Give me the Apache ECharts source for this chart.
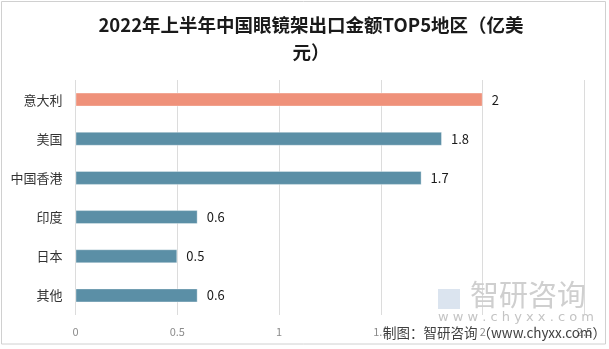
<!DOCTYPE html>
<html>
<head>
<meta charset="utf-8">
<script src="https://cdn.jsdelivr.net/npm/echarts@6/dist/echarts.min.js"></script>
<style>
html,body{margin:0;padding:0;background:#fff;}
#c{width:609px;height:349px;}
</style>
</head>
<body>
<div id="c"></div>
<script>
const titleText = '2022年上半年中国眼镜架出口金额TOP5地区（亿美\n元）';
const categories = ['意大利', '美国', '中国香港', '印度', '日本', '其他'];
const values = [2, 1.8, 1.7, 0.6, 0.5, 0.6];
const xTicks = [0, 0.5, 1, 1.5, 2, 2.5];
const sourceText = '制图：智研咨询（www.chyxx.com）';

const highlightColor = '#EF917A';
const barColor = '#5B8FA6';

const chart = echarts.init(document.getElementById('c'));
chart.setOption({
  animation: false,
  backgroundColor: '#fff',
  title: {
    text: titleText,
    left: 306,
    textAlign: 'center',
    top: 6,
    textStyle: {
      fontFamily: 'Noto Sans CJK SC',
      fontWeight: 'bold',
      fontSize: 18.5,
      lineHeight: 27,
      color: '#1a1a1a'
    }
  },
  grid: { left: 75.5, right: 24.5, top: 80, bottom: 34, containLabel: false },
  xAxis: {
    type: 'value',
    min: xTicks[0],
    max: xTicks[xTicks.length - 1],
    interval: 0.5,
    axisLine: { show: false },
    axisTick: { show: false },
    splitLine: { show: true, lineStyle: { color: '#dcdcdc', width: 1 } },
    axisLabel: {
      color: '#8c8c8c',
      fontSize: 11,
      fontFamily: 'Noto Sans CJK SC',
      margin: 11
    }
  },
  yAxis: {
    type: 'category',
    inverse: true,
    data: categories,
    axisLine: { show: false },
    axisTick: { show: false },
    axisLabel: {
      color: '#333',
      fontSize: 13,
      fontFamily: 'Noto Sans CJK SC',
      margin: 13
    }
  },
  series: [{
    type: 'bar',
    data: values.map((v, i) => ({
      value: v,
      itemStyle: { color: i === 0 ? highlightColor : barColor }
    })),
    barWidth: 14,
    itemStyle: { borderColor: 'rgba(255,255,255,0.35)', borderWidth: 1 },
    label: {
      show: true,
      position: 'right',
      distance: 9,
      color: '#1a1a1a',
      fontSize: 13,
      fontFamily: 'Noto Sans CJK SC'
    }
  }],
  graphic: [
    {
      type: 'rect',
      shape: { x: 1.5, y: 1.5, width: 604, height: 342.5 },
      style: { fill: 'none', stroke: '#d0d0d0', lineWidth: 1 },
      z: 100
    },
    {
      type: 'text',
      x: 470, y: 280,
      style: { text: '智研咨询', fill: '#cfcfcf', font: '29px "Noto Sans CJK SC"' },
      z: 1
    },
    {
      type: 'rect',
      shape: { x: 438, y: 289, width: 22, height: 20 },
      style: { fill: '#dbe4ef' },
      z: 1
    },
    {
      type: 'text',
      x: 438, y: 311,
      style: { text: 'w w w . c h y x x . c o m', fill: '#c4c4c4', font: '13px "DejaVu Sans"' },
      z: 1
    },
    {
      type: 'text',
      x: 383, y: 326,
      style: { text: sourceText, fill: '#404040', font: '13.5px "Noto Sans CJK SC"' },
      z: 110
    }
  ]
});
</script>
</body>
</html>
